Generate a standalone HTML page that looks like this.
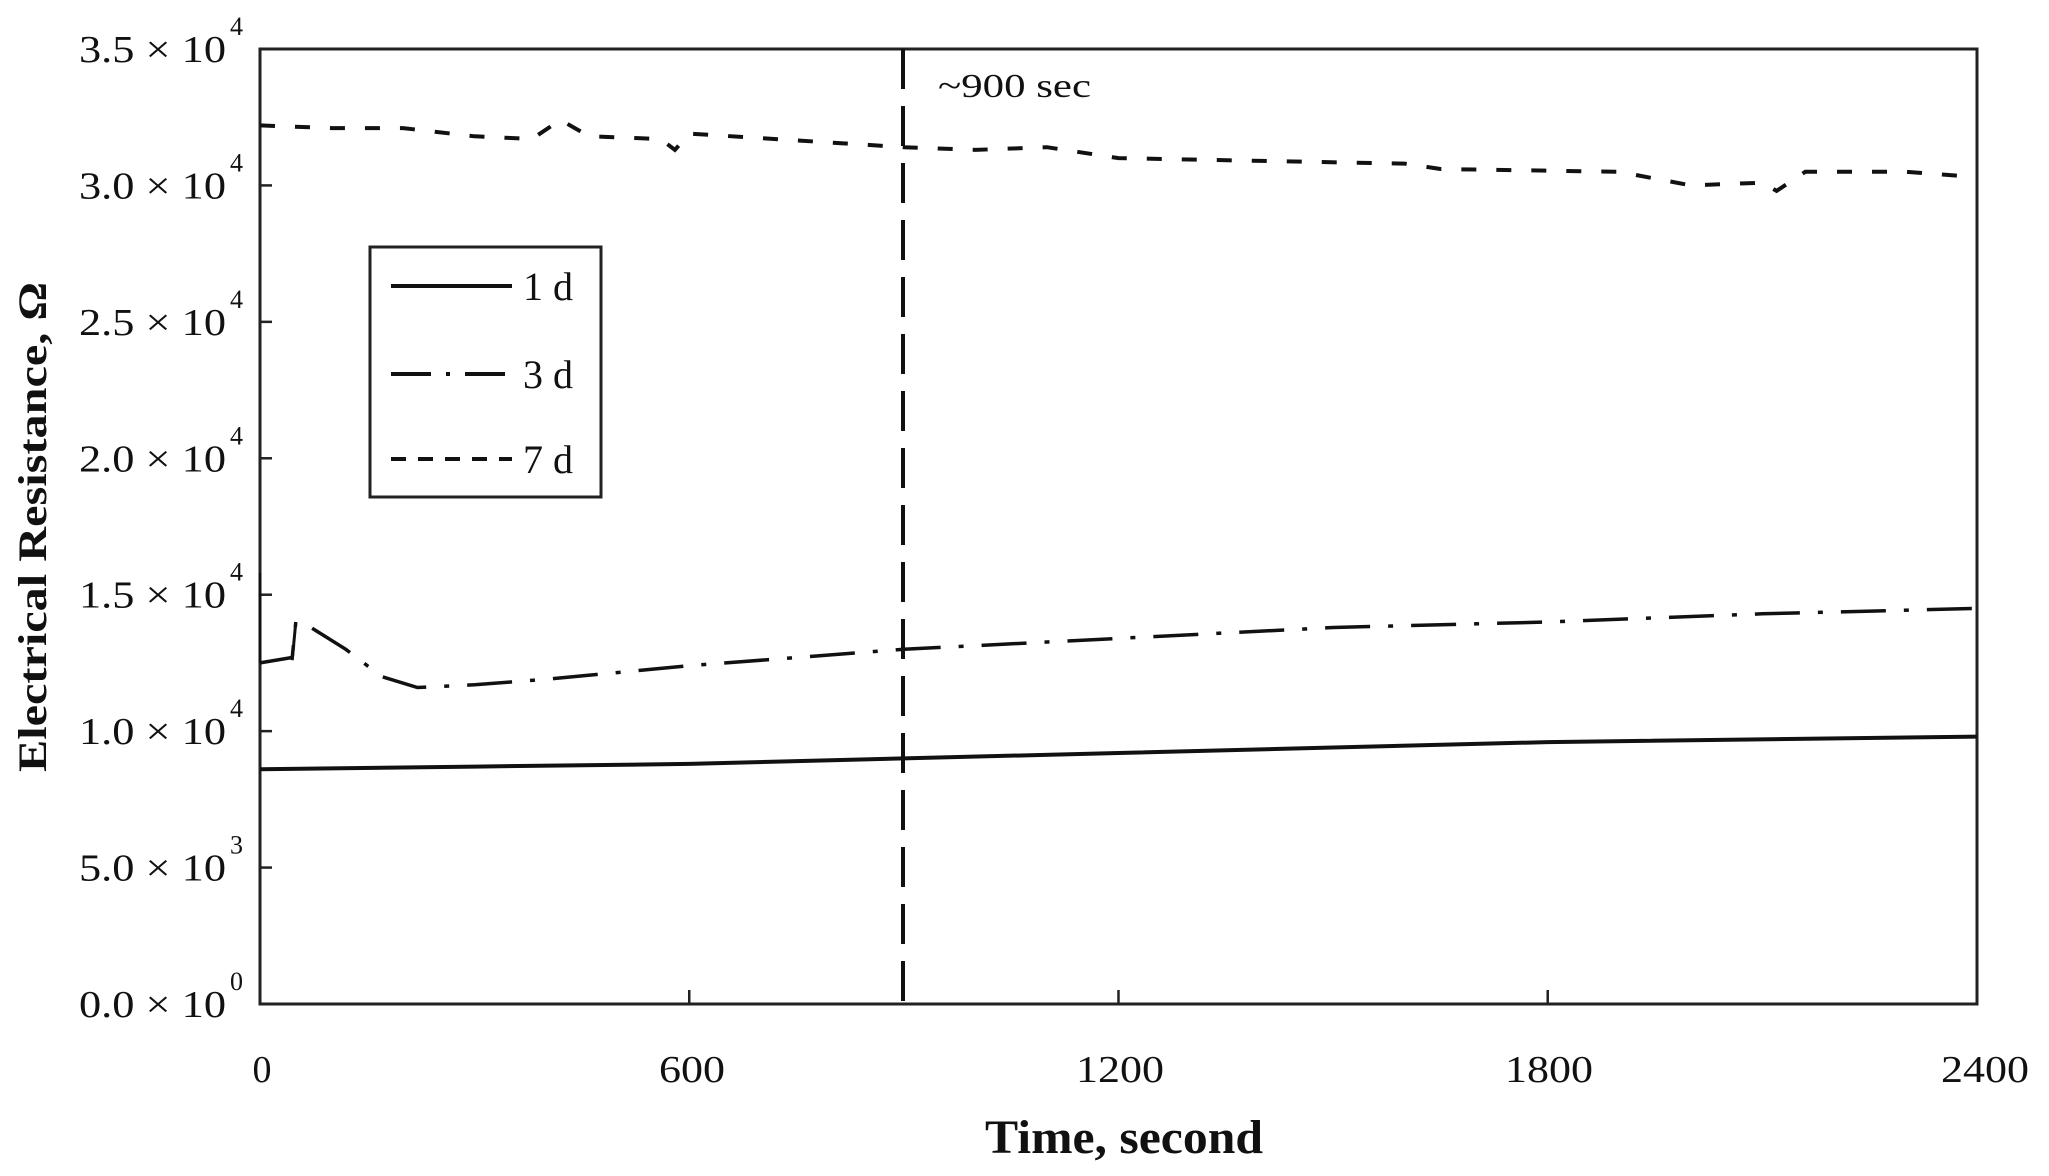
<!DOCTYPE html>
<html><head><meta charset="utf-8"><style>
html,body{margin:0;padding:0;background:#fff;}
svg{display:block}
text{font-family:"Liberation Serif",serif;fill:#111}
</style></head><body>
<svg id="s" width="2049" height="1176" viewBox="0 0 2049 1176" xmlns="http://www.w3.org/2000/svg">
<rect x="260" y="49" width="1717" height="955" fill="none" stroke="#222" stroke-width="3"/>
<g id="ticks" stroke="#222" stroke-width="2.5"></g>
<g id="ylab" font-size="38" text-anchor="end"></g>
<g font-size="38" text-anchor="middle">
<text x="262" y="1082">0</text><text x="692" y="1082" textLength="66" lengthAdjust="spacingAndGlyphs">600</text><text x="1120" y="1082" textLength="88" lengthAdjust="spacingAndGlyphs">1200</text><text x="1549" y="1082" textLength="88" lengthAdjust="spacingAndGlyphs">1800</text><text x="1985" y="1082" textLength="88" lengthAdjust="spacingAndGlyphs">2400</text>
</g>
<text x="1124" y="1153" font-size="48" font-weight="bold" text-anchor="middle" textLength="278" lengthAdjust="spacingAndGlyphs">Time, second</text>
<text transform="translate(46,527) rotate(-90)" font-size="40" font-weight="bold" text-anchor="middle" textLength="490" lengthAdjust="spacingAndGlyphs">Electrical Resistance, Ω</text>
<line x1="903" y1="49" x2="903" y2="1004" stroke="#111" stroke-width="4" stroke-dasharray="40,17"/>
<text x="938" y="97" font-size="34" textLength="153" lengthAdjust="spacingAndGlyphs">~900 sec</text>
<path id="d7" fill="none" stroke="#111" stroke-width="4" stroke-dasharray="15,20"/>
<path id="d3" fill="none" stroke="#111" stroke-width="3.5" stroke-dasharray="45,18,5,18"/>
<path id="d1" fill="none" stroke="#111" stroke-width="4"/>
<path id="sp" fill="none" stroke="#111" stroke-width="3"/>
<rect x="370" y="247" width="231" height="250" fill="#fff" stroke="#222" stroke-width="3"/>
<line x1="391" y1="286" x2="512" y2="286" stroke="#111" stroke-width="4"/>
<line x1="391" y1="374" x2="512" y2="374" stroke="#111" stroke-width="4" stroke-dasharray="40,15,4,15"/>
<line x1="391" y1="459" x2="512" y2="459" stroke="#111" stroke-width="4" stroke-dasharray="15,12"/>
<g font-size="40"><text x="523" y="300">1 d</text><text x="523" y="388">3 d</text><text x="523" y="473">7 d</text></g>
</svg>
<script>
var X=function(t){return 260+t*0.7154},Y=function(v){return 1004-v*0.027286};
function P(a){return a.map(function(p,i){return (i?'L':'M')+X(p[0]).toFixed(1)+' '+Y(p[1]).toFixed(1)}).join(' ')}
document.getElementById('d7').setAttribute('d',P([[0,32200],[100,32100],[200,32100],[300,31800],[380,31700],[420,32400],[460,31800],[560,31700],[580,31300],[600,31900],[900,31400],[1000,31300],[1100,31400],[1200,31000],[1400,30900],[1600,30800],[1650,30600],[1900,30500],[2000,30000],[2100,30100],[2120,29800],[2160,30500],[2300,30500],[2400,30300]]));
document.getElementById('d3').setAttribute('d',P([[0,12500],[45,12700],[50,14000],[65,13900],[120,13000],[170,12000],[220,11600],[300,11700],[400,11900],[600,12400],[900,13000],[1200,13400],[1500,13800],[1800,14000],[2100,14300],[2400,14500]]));
document.getElementById('d1').setAttribute('d',P([[0,8600],[300,8700],[600,8800],[900,9000],[1200,9200],[1500,9400],[1800,9600],[2400,9800]]));
document.getElementById('sp').setAttribute('d',P([[0,12500],[0,15800]])+' '+P([[45,12600],[50,14000]]));
var tk=document.getElementById('ticks'),yl=document.getElementById('ylab'),h='';
var labs=['0.0','5.0','1.0','1.5','2.0','2.5','3.0','3.5'],ex=['0','3','4','4','4','4','4','4'];
for(var i=1;i<7;i++){var y=Y(i*5000);h+='<line x1="260" x2="272" y1="'+y+'" y2="'+y+'"/>';}
[600,1200,1800].forEach(function(t){h+='<line x1="'+X(t)+'" x2="'+X(t)+'" y1="1004" y2="990"/>'});
tk.innerHTML=h;var g='';
for(var i=0;i<=7;i++){var y=Y(i*5000)+13;
 g+='<text x="226" y="'+y+'" textLength="147" lengthAdjust="spacingAndGlyphs">'+labs[i]+' × 10</text><text x="243" y="'+(y-27)+'" font-size="26">'+ex[i]+'</text>';}
yl.innerHTML=g;
</script>
</body></html>
